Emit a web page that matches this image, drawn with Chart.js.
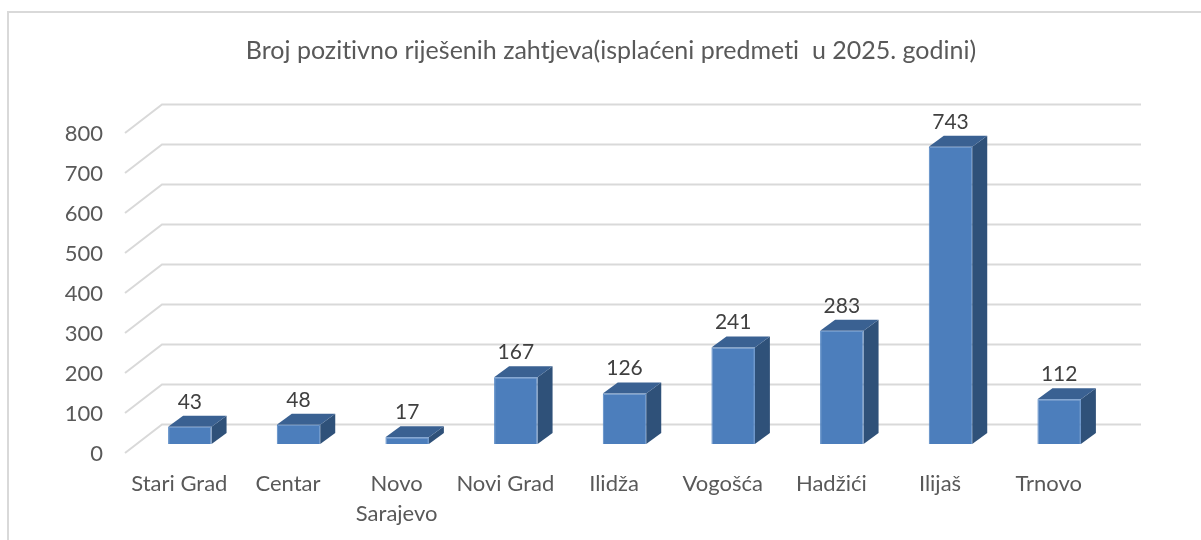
<!DOCTYPE html>
<html>
<head>
<meta charset="utf-8">
<title>Broj pozitivno riješenih zahtjeva</title>
<script src="https://cdn.jsdelivr.net/npm/chart.js@4/dist/chart.umd.min.js"></script>
<style>
    html, body { margin: 0; padding: 0; background: #fff; overflow: hidden; }
    #wrap { position: relative; width: 1201px; height: 540px; }
    #frame { position: absolute; left: 7px; top: 11px; width: 1194px; height: 529px; border-left: 2px solid #d9d9d9; border-top: 2px solid #d9d9d9; box-sizing: border-box; }
    canvas { position: absolute; left: 0; top: 0; }
</style>
</head>
<body>
<div id="wrap">
    <div id="frame"></div>
    <canvas id="chart" width="1201" height="540"></canvas>
</div>
<script>
const chartTitle = 'Broj pozitivno riješenih zahtjeva(isplaćeni predmeti  u 2025. godini)';
const categories = ['Stari Grad', 'Centar', ['Novo', 'Sarajevo'], 'Novi Grad', 'Ilidža', 'Vogošća', 'Hadžići', 'Ilijaš', 'Trnovo'];
const values = [43, 48, 17, 167, 126, 241, 283, 743, 112];

const FONT = 'Lato';
// pomak zida (3D) i pomak stupca od prednje ravnine
const WALL_DX = 37, WALL_DY = -28.5;
const BAR_DX = 10.5, BAR_DY = -9;
const SIDE_DX = 15, SIDE_DY = -11;

const fake3d = {
    id: 'fake3d',
    beforeDraw(chart) {
        // bez ligatura ("ti") u naslovu
        chart.ctx.textRendering = 'optimizeSpeed';
    },
    beforeDatasetsDraw(chart) {
        const ctx = chart.ctx;
        const { y, x } = chart.scales;
        ctx.save();
        ctx.strokeStyle = '#d9d9d9';
        ctx.lineWidth = 2;
        y.ticks.forEach(t => {
            const py = y.getPixelForValue(t.value);
            ctx.beginPath();
            ctx.moveTo(x.left, py);
            ctx.lineTo(x.left + WALL_DX, py + WALL_DY);
            ctx.lineTo(x.right + WALL_DX + 1, py + WALL_DY);
            ctx.stroke();
        });
        ctx.restore();

        // stupci se crtaju pomaknuti, zatvara se u afterDatasetsDraw
        ctx.save();
        ctx.translate(BAR_DX, BAR_DY);
        chart.getDatasetMeta(0).data.forEach(bar => {
            const l = bar.x - bar.width / 2, r = bar.x + bar.width / 2;
            ctx.fillStyle = '#2f5179';
            ctx.beginPath();
            ctx.moveTo(r, bar.y);
            ctx.lineTo(r + SIDE_DX, bar.y + SIDE_DY);
            ctx.lineTo(r + SIDE_DX, bar.base + SIDE_DY);
            ctx.lineTo(r, bar.base);
            ctx.closePath();
            ctx.fill();
            ctx.fillStyle = '#3a6192';
            ctx.beginPath();
            ctx.moveTo(l, bar.y);
            ctx.lineTo(l + SIDE_DX, bar.y + SIDE_DY);
            ctx.lineTo(r + SIDE_DX, bar.y + SIDE_DY);
            ctx.lineTo(r, bar.y);
            ctx.closePath();
            ctx.fill();
        });
    },
    afterDatasetsDraw(chart) {
        const ctx = chart.ctx;
        ctx.restore();
        ctx.save();
        ctx.fillStyle = '#404040';
        ctx.font = '21px ' + FONT;
        ctx.textAlign = 'center';
        ctx.textBaseline = 'middle';
        chart.getDatasetMeta(0).data.forEach((bar, i) => {
            ctx.fillText(values[i], bar.x + BAR_DX, bar.y + BAR_DY - 25);
        });
        ctx.restore();
    }
};

new Chart(document.getElementById('chart').getContext('2d'), {
    type: 'bar',
    data: {
        labels: categories,
        datasets: [{
            data: values,
            backgroundColor: '#4c7ebc',
            borderColor: '#5285c4',
            borderWidth: 1,
            barPercentage: 0.4,
            categoryPercentage: 1,
            clip: false
        }]
    },
    options: {
        responsive: false,
        animation: false,
        layout: { padding: { left: 21, right: 0, top: 0, bottom: 0 } },
        plugins: {
            legend: { display: false },
            tooltip: { enabled: false },
            title: {
                display: true,
                text: chartTitle,
                color: '#595959',
                font: { family: FONT, size: 25, weight: 'normal', lineHeight: 1.2 },
                padding: { top: 36, bottom: 67 }
            }
        },
        scales: {
            x: {
                grid: { display: false },
                border: { display: false },
                ticks: {
                    color: '#595959',
                    maxRotation: 0,
                    minRotation: 0,
                    autoSkip: false,
                    padding: 8,
                    font: { family: FONT, size: 22, lineHeight: 1.36 }
                },
                afterFit(scale) { scale.height = 87; }
            },
            y: {
                min: 0,
                max: 800,
                grid: { display: false },
                border: { display: false },
                ticks: {
                    stepSize: 100,
                    color: '#595959',
                    padding: 14,
                    labelOffset: 1,
                    font: { family: FONT, size: 22 }
                },
                afterFit(scale) { scale.width = 104; }
            },
            spacer: {
                position: 'right',
                grid: { display: false },
                border: { display: false },
                ticks: { display: false },
                afterFit(scale) { scale.width = 98; }
            }
        }
    },
    plugins: [fake3d]
});
</script>
</body>
</html>
